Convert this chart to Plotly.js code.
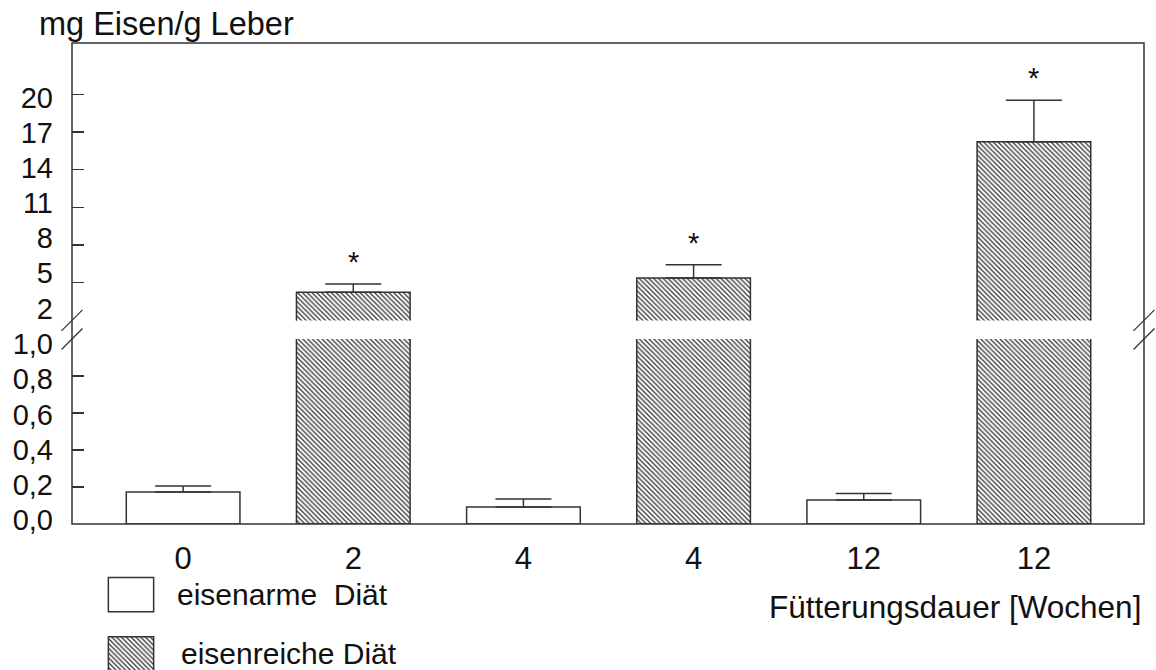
<!DOCTYPE html>
<html>
<head>
<meta charset="utf-8">
<script src="https://cdn.plot.ly/plotly-3.0.1.min.js"></script>
<style>
  html, body { margin: 0; padding: 0; background: #ffffff; }
  #chart { width: 1156px; height: 670px; }
</style>
</head>
<body>
<div id="chart"></div>
<script>
// Leber-Eisengehalt nach Fütterungsdauer, eisenarme vs. eisenreiche Diät
const weekLabels = ['0', '2', '4', '4', '12', '12'];
const dietGroup  = ['arm', 'reich', 'arm', 'reich', 'arm', 'reich'];
const ironMean   = [0.173, 4.24, 0.092, 5.37, 0.13, 16.23];
const ironSem    = [0.032, 0.66, 0.043, 1.06, 0.035, 3.30];
const significant = [false, true, false, true, false, true];

// tick marks (the break values 1,0 and 2 carry a label only)
const lowerTickMarks = [0, 0.2, 0.4, 0.6, 0.8];
const upperTickMarks = [5, 8, 11, 14, 17, 20];
const lowerTickLabels = [0, 0.2, 0.4, 0.6, 0.8, 1.0];
const upperTickLabels = [2, 5, 8, 11, 14, 17, 20];

const dietKeys   = ['arm', 'reich'];
const dietLabels = ['eisenarme\u00a0 Diät', 'eisenreiche Diät'];

const yTitle = 'mg Eisen/g Leber';
const xTitle = 'Fütterungsdauer [Wochen]';

// ---- geometry (pixels of the 1156 x 670 figure) ----
const W = 1156, H = 670;
const plotL = 72, plotR = 1144, plotT = 43, plotB = 524;
const lowerTopPx = 339;      // value 1,0 of the lower segment
const upperBotPx = 320.4;    // value 2 of the upper segment
const fx = px => px / W;
const fy = py => 1 - py / H;

// value ranges of both segments
const lowerRange = [0, 1.0];
const upperRange = [2, 24.09];
// the label columns are set a little tighter than the tick marks
const lowerLabelRange = [-0.0227, 1.0284];
const upperLabelRange = [0.985, 24.65];

const FONT = 'Liberation Sans, Arial, sans-serif';
const INK = '#333333';
const TXT = '#111111';

const hatch = { shape: '\\', fgcolor: '#333333', bgcolor: '#ffffff', size: 3.4, solidity: 0.36 };
const barWidth = 0.668;

function barTrace(key, yaxis) {
  const idx = dietGroup.map((g, i) => g === key ? i : -1).filter(i => i >= 0);
  return {
    type: 'bar',
    x: idx,
    y: idx.map(i => ironMean[i]),
    width: idx.map(() => barWidth),
    xaxis: 'x',
    yaxis: yaxis,
    marker: {
      color: '#ffffff',
      line: { color: INK, width: 1.5 },
      pattern: key === 'reich' ? hatch : { shape: '' }
    },
    error_y: {
      type: 'data',
      symmetric: false,
      array: idx.map(i => ironSem[i]),
      arrayminus: idx.map(() => 0),
      color: INK,
      thickness: 1.5,
      width: 28
    },
    showlegend: false,
    hoverinfo: 'skip'
  };
}

const traces = [];
dietKeys.forEach(k => {
  traces.push(barTrace(k, 'y'));
  traces.push(barTrace(k, 'y2'));
});

// empty carriers so the label-only axes get drawn
['y3', 'y4'].forEach(ya => {
  traces.push({ type: 'scatter', mode: 'markers', x: [], y: [], xaxis: 'x', yaxis: ya,
                showlegend: false, hoverinfo: 'skip' });
});

// legend swatches
dietKeys.forEach((k, j) => {
  traces.push({
    type: 'bar',
    orientation: 'h',
    x: [1],
    y: [dietLabels[j]],
    width: [0.58],
    xaxis: 'x5',
    yaxis: 'y5',
    marker: {
      color: '#ffffff',
      line: { color: INK, width: 1.5 },
      pattern: k === 'reich' ? hatch : { shape: '' }
    },
    showlegend: false,
    hoverinfo: 'skip'
  });
});

const yTickFont = { family: FONT, size: 29, color: TXT };

const tickAxis = {
  anchor: 'x', tickmode: 'array',
  ticks: 'inside', ticklen: 12, tickwidth: 1.5, tickcolor: INK,
  showticklabels: false,
  showline: false, showgrid: false, zeroline: false, fixedrange: true
};
const labelAxis = {
  anchor: 'x', side: 'left', tickmode: 'array',
  showline: false, showgrid: false, zeroline: false,
  ticks: '', tickfont: yTickFont, ticklabelstandoff: 18, fixedrange: true
};

const layout = {
  width: W, height: H,
  margin: { l: 0, r: 0, t: 0, b: 0, pad: 0 },
  paper_bgcolor: '#ffffff',
  plot_bgcolor: 'rgba(0,0,0,0)',
  separators: ', ',
  barmode: 'overlay',
  showlegend: false,
  font: { family: FONT, color: TXT },
  xaxis: {
    domain: [fx(plotL), fx(plotR)],
    range: [-0.653, 5.647],
    anchor: 'y',
    tickmode: 'array',
    tickvals: weekLabels.map((_, i) => i),
    ticktext: weekLabels,
    ticks: '',
    showline: false, showgrid: false, zeroline: false,
    tickfont: { family: FONT, size: 31, color: TXT },
    ticklabelstandoff: 13,
    fixedrange: true
  },
  yaxis: Object.assign({}, tickAxis, {
    domain: [fy(plotB), fy(lowerTopPx)],
    range: lowerRange,
    tickvals: lowerTickMarks
  }),
  yaxis3: Object.assign({}, labelAxis, {
    overlaying: 'y',
    range: lowerLabelRange,
    tickvals: lowerTickLabels,
    tickformat: '.1f'
  }),
  yaxis2: Object.assign({}, tickAxis, {
    domain: [fy(upperBotPx), fy(plotT)],
    range: upperRange,
    tickvals: upperTickMarks
  }),
  yaxis4: Object.assign({}, labelAxis, {
    overlaying: 'y2',
    range: upperLabelRange,
    tickvals: upperTickLabels,
    tickformat: 'd'
  }),
  xaxis5: {
    domain: [fx(107), fx(155)],
    range: [-0.03, 1.03],
    anchor: 'y5',
    visible: false,
    fixedrange: true
  },
  yaxis5: {
    domain: [0, fy(565)],
    range: [-0.27, 1.5],
    type: 'category',
    categoryorder: 'array',
    categoryarray: [dietLabels[1], dietLabels[0]],
    anchor: 'x5',
    visible: false,
    fixedrange: true
  },
  shapes: [],
  annotations: []
};

// frame around the plotting area
layout.shapes.push({
  type: 'rect', xref: 'paper', yref: 'paper', layer: 'above',
  x0: fx(plotL), x1: fx(plotR), y0: fy(plotB), y1: fy(plotT),
  line: { color: INK, width: 1.5 }, fillcolor: 'rgba(0,0,0,0)'
});

// axis break marks on both sides
[plotL, plotR].forEach(ax => {
  [upperBotPx, lowerTopPx].forEach(cy => {
    layout.shapes.push({
      type: 'line', xref: 'paper', yref: 'paper', layer: 'above',
      x0: fx(ax - 10.5), y0: fy(cy + 10.5),
      x1: fx(ax + 10.5), y1: fy(cy - 10.5),
      line: { color: INK, width: 1.2 }
    });
  });
});

// significance markers
significant.forEach((s, i) => {
  if (!s) return;
  layout.annotations.push({
    xref: 'x', yref: 'y2', x: i, y: ironMean[i] + ironSem[i],
    text: '*', showarrow: false, yanchor: 'bottom', yshift: 4,
    font: { family: FONT, size: 29, color: TXT }
  });
});

// axis titles
layout.annotations.push({
  xref: 'paper', yref: 'paper', x: fx(37), y: fy(24),
  xanchor: 'left', yanchor: 'middle', showarrow: false,
  text: yTitle, font: { family: FONT, size: 32.5, color: TXT }
});
layout.annotations.push({
  xref: 'paper', yref: 'paper', x: fx(1143), y: fy(607),
  xanchor: 'right', yanchor: 'middle', showarrow: false,
  text: xTitle, font: { family: FONT, size: 31.5, color: TXT }
});

// legend labels
const legendTextX = [175, 179];
const legendTextY = [594, 653];
dietLabels.forEach((lab, j) => {
  layout.annotations.push({
    xref: 'paper', yref: 'paper', x: fx(legendTextX[j]), y: fy(legendTextY[j]),
    xanchor: 'left', yanchor: 'middle', showarrow: false,
    text: lab, font: { family: FONT, size: 30, color: TXT }
  });
});

Plotly.newPlot('chart', traces, layout, { displayModeBar: false, staticPlot: true });
</script>
</body>
</html>
